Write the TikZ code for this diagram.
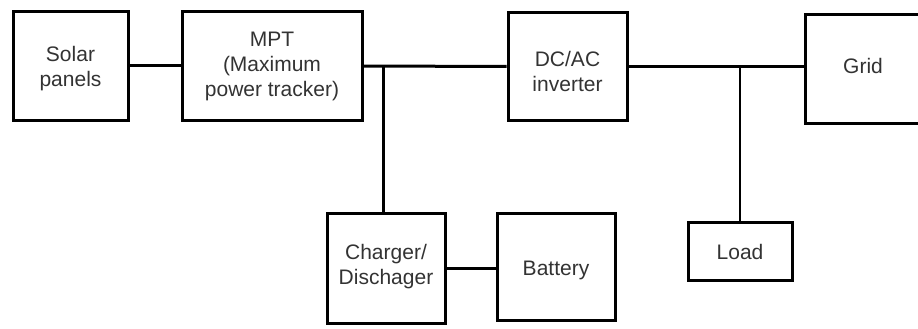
\documentclass[tikz,border=0pt]{standalone}
\usepackage{fontspec}
\setmainfont{Liberation Sans}
\begin{document}
\begin{tikzpicture}[x=1pt,y=-1pt,
  blk/.style={draw=black, line width=3pt, fill=white, inner sep=0pt},
  txt/.style={text=black!80, font=\fontsize{21}{25}\selectfont, align=center, inner sep=0pt},
  wire/.style={draw=black, line width=3pt},
  thinwire/.style={draw=black, line width=2pt}]
\useasboundingbox (0,0) rectangle (918,329);
\fill[white] (0,0) rectangle (918,329);
\node[blk, minimum width=115pt, minimum height=108pt,
  label={[txt, yshift=-3pt]center:Solar\\panels}] (solar) at (70.5,66) {};
\node[blk, minimum width=180pt, minimum height=108pt,
  label={[txt, yshift=0pt]center:MPT\\(Maximum\\power tracker)}] (mpt) at (272,66) {};
\node[blk, minimum width=119pt, minimum height=107pt,
  label={[txt, yshift=-5pt]center:DC/AC\\inverter}] (inv) at (567.5,66.5) {};
\node[blk, minimum width=116pt, minimum height=108pt,
  label={[txt, yshift=3pt]center:Grid}] (grid) at (863,69) {};
\node[blk, minimum width=118pt, minimum height=110pt,
  label={[txt, yshift=1pt]center:Charger/\\Dischager}] (chg) at (386,268) {};
\node[blk, minimum width=118pt, minimum height=107pt,
  label={[txt, yshift=-4pt]center:Battery}] (bat) at (556,266.5) {};
\node[blk, minimum width=104pt, minimum height=58pt,
  label={[txt, yshift=-1pt]center:Load}] (load) at (740,251) {};
\coordinate (j1) at (383,66);
\coordinate (j2) at (740,66);
\draw[wire] (solar.east) -- (mpt.west);
\draw[wire] (mpt.east) -- (inv.west);
\draw[wire] (j1) -- (j1 |- chg.north);
\draw[wire] (inv.east) -- (inv.east -| grid.west);
\draw[thinwire] (j2) -- (load.north);
\draw[wire] (chg.east) -- (chg.east -| bat.west);
\end{tikzpicture}
\end{document}
